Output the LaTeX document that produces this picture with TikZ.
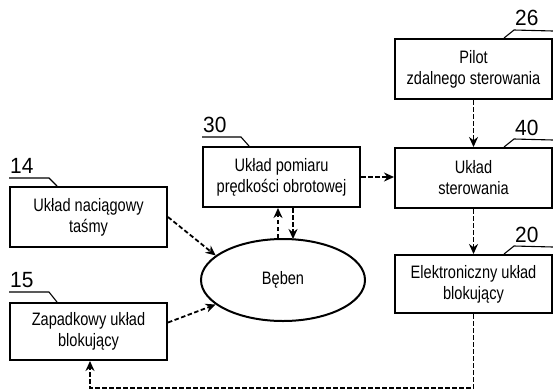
\documentclass[tikz,border=0pt]{standalone}
\usepackage{fontspec}
\setmainfont{Liberation Sans}[FakeStretch=0.81]
\newfontfamily\numfont{Liberation Sans}[FakeStretch=0.95]
\usetikzlibrary{arrows.meta,calc,shapes.geometric}
\tikzset{
  blk/.style={draw, line width=2pt, minimum width=157pt, minimum height=60pt, inner sep=0pt, align=center, font=\fontsize{18}{21}\selectfont},
  oval/.style={draw, ellipse, line width=2pt, minimum width=164pt, minimum height=82pt, inner sep=0pt, font=\fontsize{18}{21}\selectfont},
  num/.style={anchor=south west, inner sep=0pt, font=\numfont\fontsize{22}{22}\selectfont},
  lead/.style={line width=1.1pt},
  arr/.style={line width=1.8pt, dash pattern=on 4.5pt off 2.5pt, -{Stealth[length=10pt,width=9pt]}}
}
\begin{document}
\begin{tikzpicture}[x=1pt,y=-1pt]
\useasboundingbox (0,0) rectangle (553,391);
% boxes
\node[blk] (b26) at (473.5,69) {Pilot\\zdalnego sterowania};
\node[blk] (b40) at (473.5,178) {Układ\\sterowania};
\node[blk, minimum height=58pt] (b20) at (473.5,284) {Elektroniczny układ\\blokujący};
\node[blk] (b30) at (281.5,177) {Układ pomiaru\\prędkości obrotowej};
\node[blk] (b14) at (88.5,217) {Układ naciągowy\\taśmy};
\node[blk, minimum height=57pt] (b15) at (88.5,331.5) {Zapadkowy układ\\blokujący};
\node[oval] (beben) at (283,280) {Bęben};
% reference numbers
\node[num] (n26) at (515,26) {26};
\node[num] (n40) at (515,136) {40};
\node[num] (n20) at (515,243) {20};
\node[num] (n30) at (203,133) {30};
\node[num] (n14) at (10,174) {14};
\node[num] (n15) at (10,288) {15};
% leaders
\draw[lead] ($(b26.north west)+(110,0)$) -- ++(10,-8) -- (b26.north east |- 0,31);
\draw[lead] ($(b40.north west)+(110,0)$) -- ++(10,-8) -- (b40.north east |- 0,140);
\draw[lead] ($(b20.north west)+(110,0)$) -- ++(10,-8) -- (b20.north east |- 0,247);
\draw[lead] ($(b30.north west)+(0,-9)$) -- ++(39,0) -- ($(b30.north west)+(47,0)$);
\draw[lead] ($(b14.north west)+(0,-8)$) -- ++(40,0) -- ($(b14.north west)+(48,0)$);
\draw[lead] ($(b15.north west)+(0,-10)$) -- ++(40,0) -- ($(b15.north west)+(48,0)$);
% connectors
\coordinate (bot) at (0,388);
\draw[arr] (b26.south) -- (b40.north);
\draw[arr] (b40.south) -- (b20.north);
\draw[arr] (b30.east) -- (b40.west |- b30.east);
\draw[arr] ($(beben.north)+(-5,0)$) -- ($(b30.south)+(-3.5,0)$);
\draw[arr] ($(b30.south)+(11.5,0)$) -- ($(beben.north)+(10,1)$);
\draw[arr] (b14.east) -- (beben.160);
\draw[arr] ($(b15.east)+(0,-9)$) -- (beben.200);
\draw[arr] (b20.south) -- (b20.south |- bot) -| ($(b15.south)+(1.5,0)$);
\end{tikzpicture}
\end{document}
